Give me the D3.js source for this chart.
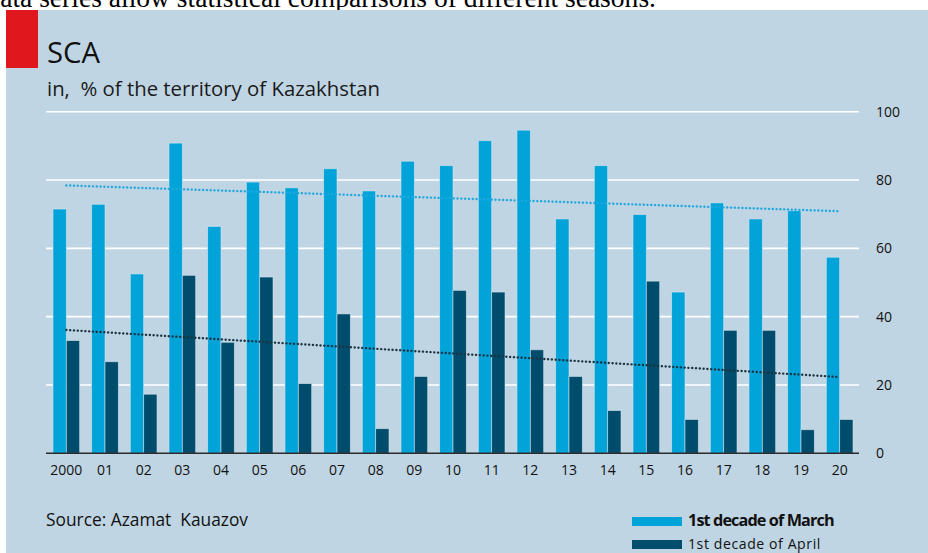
<!DOCTYPE html>
<html>
<head>
<meta charset="utf-8">
<script src="https://cdn.jsdelivr.net/npm/d3@7"></script>
<style>
  html, body { margin: 0; padding: 0; background: #ffffff; }
  svg { display: block; }
</style>
</head>
<body>
<svg id="chart" width="928" height="553"></svg>
<script>
const years = ["2000","01","02","03","04","05","06","07","08","09","10","11","12","13","14","15","16","17","18","19","20"];
const march = [71.5,72.9,52.5,90.8,66.4,79.4,77.7,83.3,76.8,85.5,84.2,91.5,94.6,68.6,84.2,69.9,47.2,73.3,68.6,71.0,57.4];
const april = [33.0,26.8,17.3,52.1,32.5,51.6,20.4,40.8,7.2,22.5,47.7,47.2,30.3,22.5,12.5,50.4,9.9,36.0,36.0,6.9,9.9];
const seriesNames = ["1st decade of March","1st decade of April"];
const yTicks = [0,20,40,60,80,100];

const svg = d3.select("#chart");
const W = 928, H = 553;

function fitWidth(sel, target) {
  const fs = parseFloat(sel.attr("font-size"));
  const w = sel.node().getComputedTextLength();
  sel.attr("font-size", (fs * target / w).toFixed(2));
}

// Cut-off text strip above the panel
const probe = svg.append("text").attr("font-family","'Liberation Serif', 'Times New Roman', serif")
  .attr("font-size", 24).text("ata series allow statistical comparisons of different seasons.");
fitWidth(probe, 656);
const topFs = probe.attr("font-size");
probe.remove();
svg.append("text")
  .attr("x", 656).attr("y", 7)
  .attr("text-anchor","end")
  .attr("font-family","'Liberation Serif', 'Times New Roman', serif")
  .attr("font-size", topFs)
  .attr("fill","#000")
  .text("data series allow statistical comparisons of different seasons.");

// Panel
svg.append("rect").attr("x",6).attr("y",10).attr("width",W-6).attr("height",H-10).attr("fill","#c0d5e3");
svg.append("rect").attr("x",6).attr("y",10).attr("width",32).attr("height",58).attr("fill","#e0181d");

const font = "'Open Sans', 'Noto Sans', sans-serif";

const title = svg.append("text").attr("x",47).attr("y",63).attr("font-family",font)
  .attr("font-size",24).attr("fill","#111").text("SCA");
fitWidth(title, 53);
const sub = svg.append("text").attr("x",47).attr("y",96).attr("font-family",font)
  .attr("font-size",17).attr("fill","#1a1a1a").attr("xml:space","preserve").style("white-space","pre")
  .text("in,  % of the territory of Kazakhstan");
fitWidth(sub, 333);

// Scales
const x = d3.scaleBand().domain(years).range([47, 859]).paddingInner(0.31).paddingOuter(0.155);
const xs = d3.scaleBand().domain(seriesNames).range([0, x.bandwidth()]);
const y = d3.scaleLinear().domain([0,100]).range([453.3, 111.7]);

// Gridlines
svg.append("g").selectAll("line").data(yTicks.filter(d => d > 0)).join("line")
  .attr("x1",46).attr("x2",859)
  .attr("y1", d => y(d)).attr("y2", d => y(d))
  .attr("stroke","#ffffff").attr("stroke-width",1.6);

// Y axis (right)
const yAxis = svg.append("g").attr("transform","translate(859,0)")
  .call(d3.axisRight(y).tickValues(yTicks).tickSize(0).tickPadding(17));
yAxis.select(".domain").remove();
yAxis.selectAll("text").attr("font-family",font).attr("font-size",14).attr("fill","#111");

// Bars
const colors = ["#02a3d9","#004c6c"];
const data = years.map((yr,i) => ({yr, vals:[march[i], april[i]]}));
const groups = svg.append("g").selectAll("g").data(data).join("g")
  .attr("transform", d => `translate(${x(d.yr)},0)`);
groups.selectAll("rect").data(d => d.vals.map((v,j) => ({v, s: seriesNames[j], j}))).join("rect")
  .attr("x", d => xs(d.s))
  .attr("width", xs.bandwidth())
  .attr("y", d => y(d.v))
  .attr("height", d => y(0) - y(d.v))
  .attr("fill", d => colors[d.j])
  .attr("stroke","#d6e6ef").attr("stroke-width",0.8).attr("stroke-opacity",0.7);

// Baseline
svg.append("line").attr("x1",46).attr("x2",859).attr("y1",y(0)).attr("y2",y(0))
  .attr("stroke","#2b2b2b").attr("stroke-width",1.6);

// X axis labels
const xAxis = svg.append("g").attr("transform",`translate(0,${y(0)})`)
  .call(d3.axisBottom(x).tickSize(0).tickPadding(12));
xAxis.select(".domain").remove();
xAxis.selectAll("text").attr("font-family",font).attr("font-size",14).attr("fill","#111");

// Linear trends (least squares)
function trend(vals) {
  const n = vals.length, mx = (n-1)/2, my = d3.mean(vals);
  let sxy = 0, sxx = 0;
  vals.forEach((v,i) => { sxy += (i-mx)*(v-my); sxx += (i-mx)*(i-mx); });
  const b = sxy/sxx, a = my - b*mx;
  return [0, n-1].map(i => ({i, v: a + b*i}));
}
const line = d3.line().x(d => x(years[d.i]) + x.bandwidth()/2).y(d => y(d.v));
[[march,"#1ea8de"],[april,"#1a3544"]].forEach(([vals,c]) => {
  svg.append("path").attr("d", line(trend(vals)))
    .attr("fill","none").attr("stroke",c).attr("stroke-width",2.4)
    .attr("stroke-linecap","round").attr("stroke-dasharray","0.1 3.7");
});

// Source
const src = svg.append("text").attr("x",46).attr("y",526).attr("font-family",font)
  .attr("font-size",15).attr("fill","#111").style("white-space","pre").text("Source: Azamat  Kauazov");
fitWidth(src, 202);

// Legend
const leg = [
  {name: seriesNames[0], c: colors[0], y: 517, weight: "bold", ls: -0.9, w: 143},
  {name: seriesNames[1], c: colors[1], y: 540, weight: "normal", ls: 0.6, w: 133}
];
leg.forEach(l => {
  svg.append("rect").attr("x",632).attr("y",l.y).attr("width",50).attr("height",9).attr("fill",l.c);
  const t = svg.append("text").attr("x",688).attr("y",l.y+9).attr("font-family",font)
    .attr("font-size",14).attr("font-weight",l.weight).attr("letter-spacing",l.ls)
    .attr("fill","#111").text(l.name);
  fitWidth(t, l.w);
});
</script>
</body>
</html>
